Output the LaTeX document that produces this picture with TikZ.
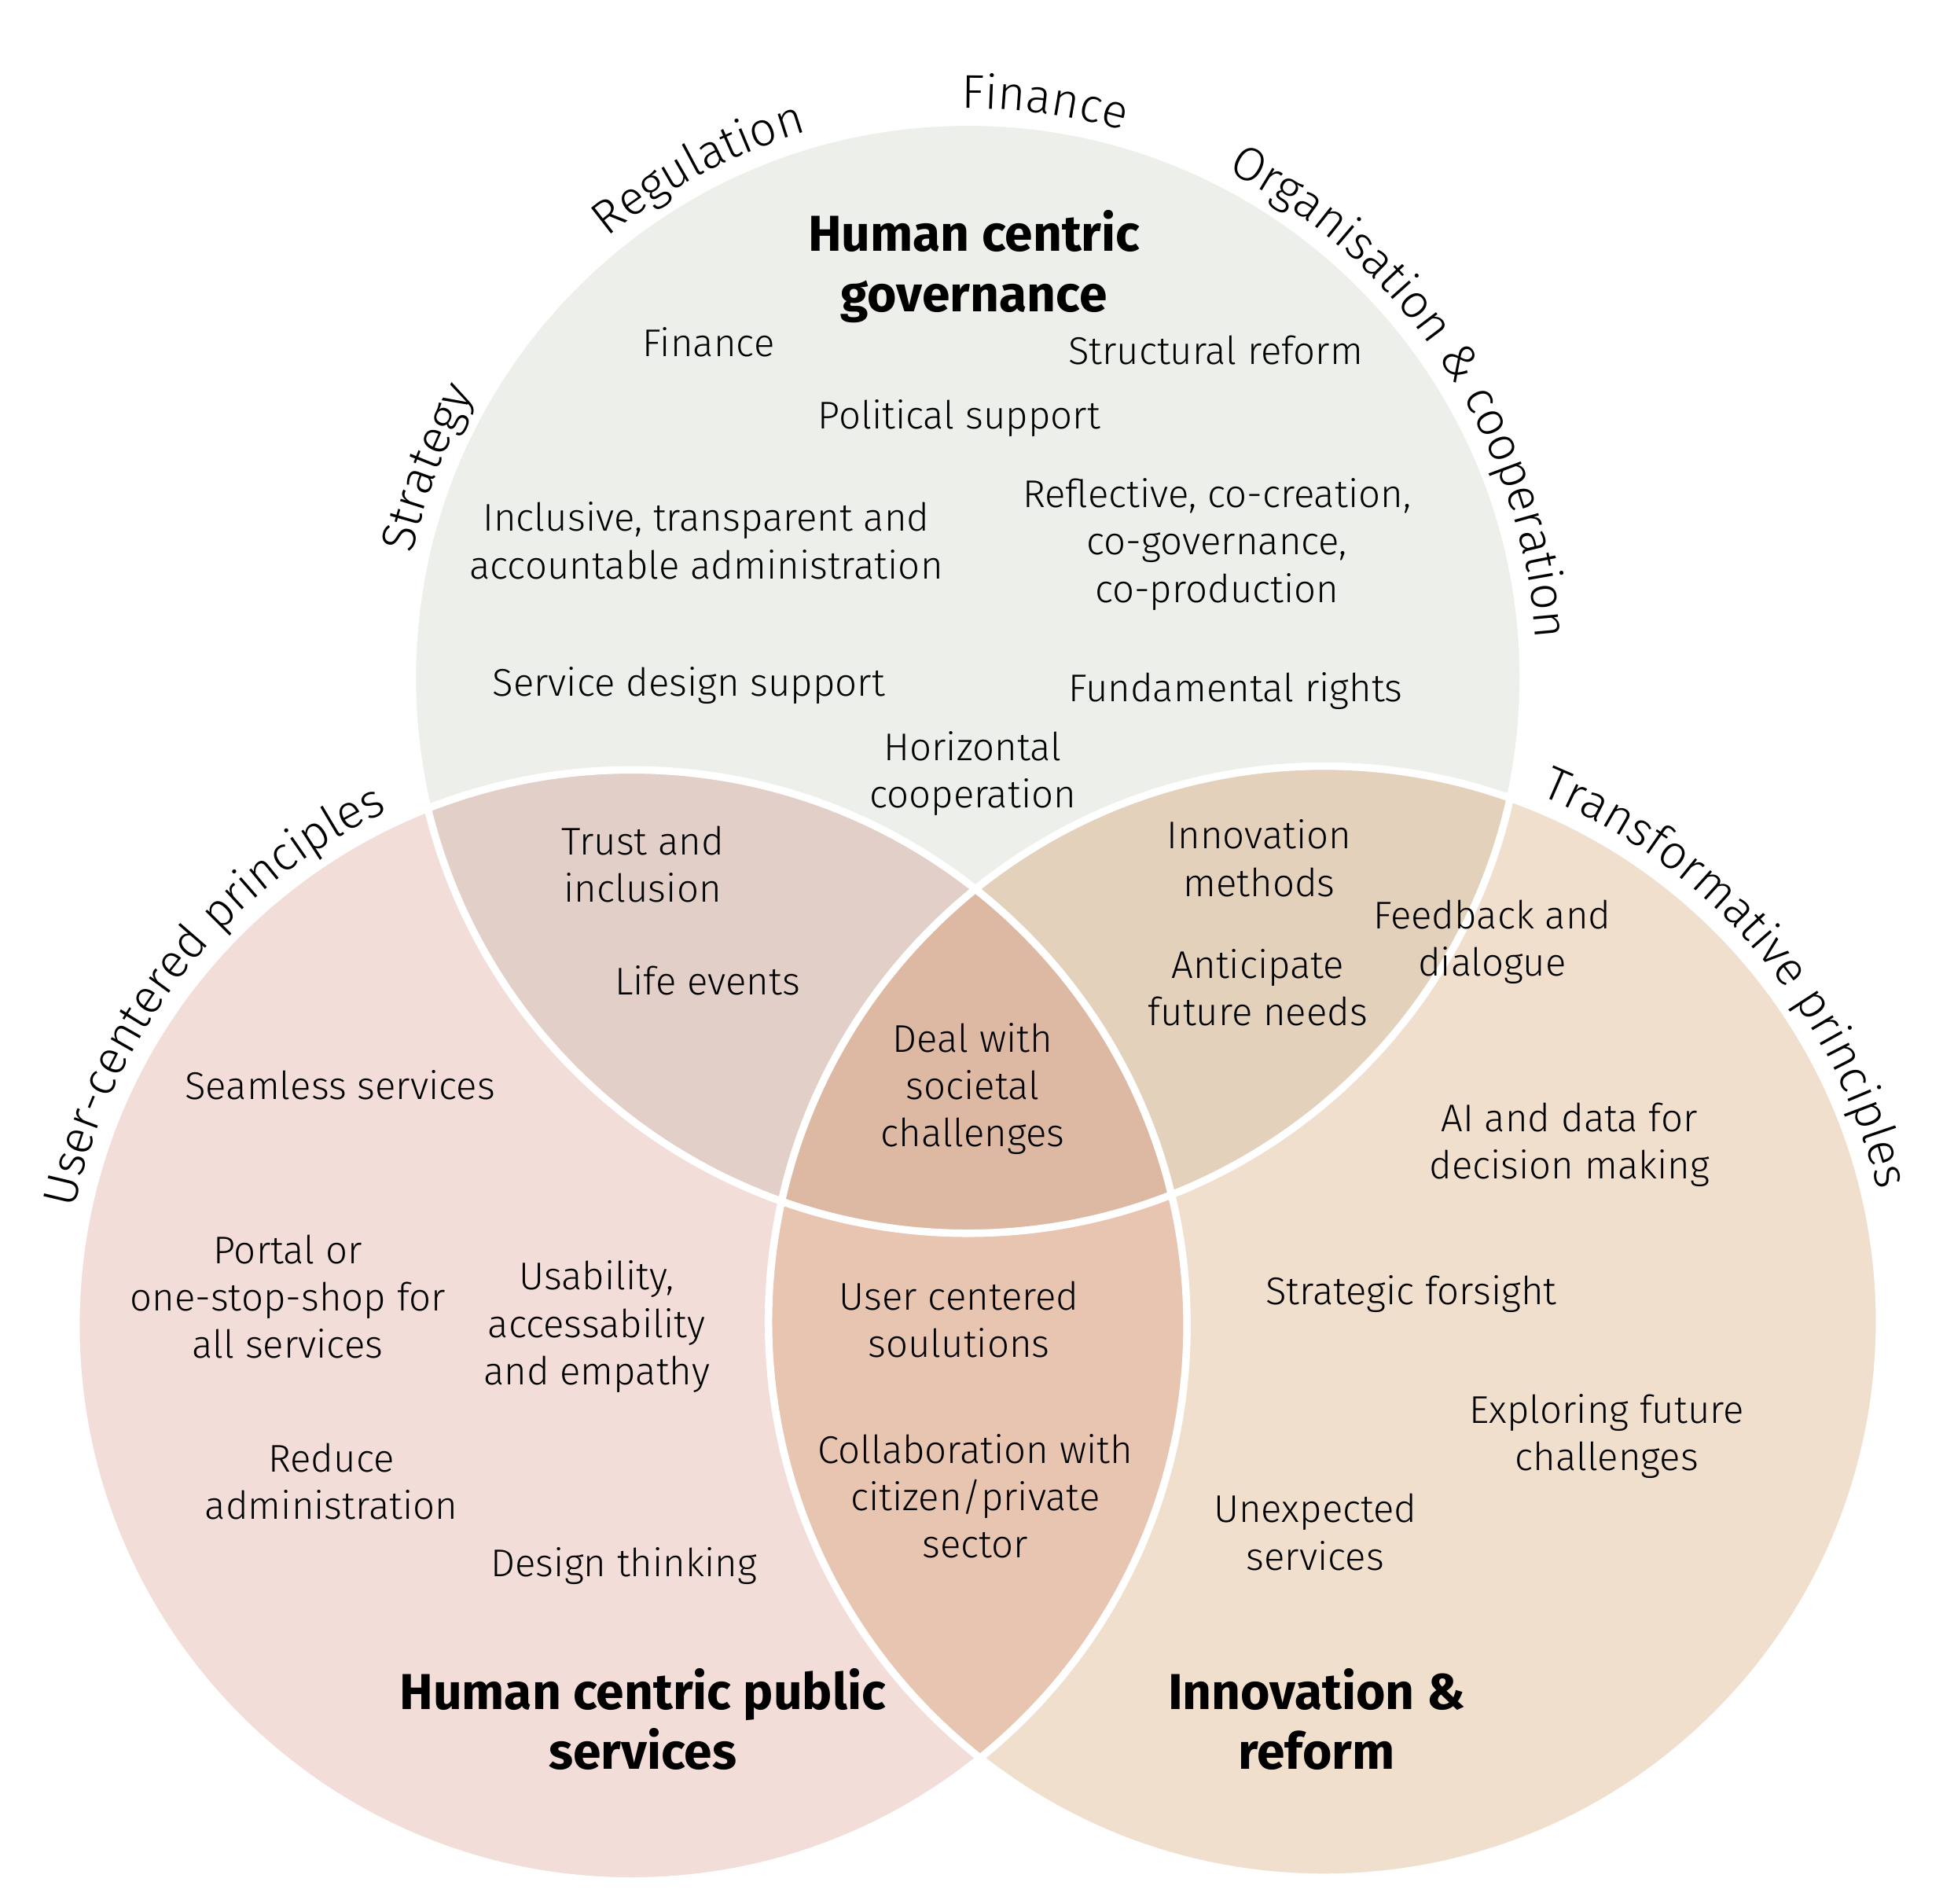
\documentclass[tikz,border=0pt]{standalone}
\usepackage{fontspec}
\IfFontExistsTF{Fira Sans Light}{%
  \setmainfont{Fira Sans}[UprightFont={* Light}, BoldFont={* Bold}]%
  \font\lblraw="Fira Sans Light" at 38pt
}{%
  \setmainfont{Fira Sans}%
  \font\lblraw="Fira Sans" at 38pt
}
\usetikzlibrary{calc}
\definecolor{cTop}{HTML}{EDEFEB}
\definecolor{cLeft}{HTML}{F2DDD8}
\definecolor{cRight}{HTML}{F1DFCD}
\definecolor{cTL}{HTML}{E2CFC8}
\definecolor{cTR}{HTML}{E3D1BC}
\definecolor{cLR}{HTML}{E8C5B1}
\definecolor{cAll}{HTML}{DDB9A4}
\newcommand\Rc{446}
\newcommand\mycharnode[4]{\node[inner sep=0pt, anchor=base, text=black, font=\lblraw, rotate=#2-90] at ($(#1)+(#2:#3)$) {#4};}
\ExplSyntaxOn
\dim_new:N \l_my_acc_dim
\dim_new:N \l_my_tot_dim
\dim_new:N \l_my_w_dim
\box_new:N \l_my_box
\tl_new:N \l_my_ang_tl
\NewDocumentCommand\curvetext{mmmm}
 {
  \hbox_set:Nn \l_my_box { \lblraw \tl_to_str:n {#4} }
  \dim_set:Nn \l_my_tot_dim { \box_wd:N \l_my_box }
  \dim_zero:N \l_my_acc_dim
  \str_map_inline:nn {#4}
   {
    \hbox_set:Nn \l_my_box { \lblraw ##1 }
    \dim_set:Nn \l_my_w_dim { \box_wd:N \l_my_box }
    \tl_set:Nx \l_my_ang_tl
     { \fp_eval:n { #3 + ( \dim_to_decimal:n { \l_my_tot_dim } / 2 - \dim_to_decimal:n { \l_my_acc_dim } - \dim_to_decimal:n { \l_my_w_dim } / 2 ) / #2 * 57.29578 } }
    \str_if_eq:nnF {##1} {~}
     {
      \mycharnode {#1} {\l_my_ang_tl} {#2} {##1}
     }
    \dim_add:Nn \l_my_acc_dim { \l_my_w_dim }
   }
 }
\ExplSyntaxOff
\begin{document}
\begin{tikzpicture}[x=1pt,y=1pt,
  body/.style={align=center, font=\fontsize{31}{38}\selectfont, inner sep=0pt, text=black, yshift=3pt},
  ttl/.style={align=center, font=\fontsize{40.5}{48}\selectfont\bfseries, inner sep=0pt, text=black},
  sep/.style={draw=white, line width=6pt}]
\useasboundingbox (0,0) rectangle (1560,-1528);
\coordinate (c1) at (777,-544);
\coordinate (c2) at (507,-1064);
\coordinate (c3) at (1063,-1061);
% fills
\fill[cTop] (c1) circle[radius=\Rc];
\fill[cLeft] (c2) circle[radius=\Rc];
\fill[cRight] (c3) circle[radius=\Rc];
\begin{scope}
  \clip (c1) circle[radius=\Rc];
  \fill[cTL] (c2) circle[radius=\Rc];
  \fill[cTR] (c3) circle[radius=\Rc];
\end{scope}
\begin{scope}
  \clip (c2) circle[radius=\Rc];
  \fill[cLR] (c3) circle[radius=\Rc];
\end{scope}
\begin{scope}
  \clip (c1) circle[radius=\Rc];
  \clip (c2) circle[radius=\Rc];
  \fill[cAll] (c3) circle[radius=\Rc];
\end{scope}
\draw[sep] (c1) circle[radius=\Rc];
\draw[sep] (c2) circle[radius=\Rc];
\draw[sep] (c3) circle[radius=\Rc];
% curved outer labels
\curvetext{c1}{457}{158.9}{Strategy}
\curvetext{c1}{457}{117.9}{Regulation}
\curvetext{c1}{457}{82.5}{Finance}
\curvetext{c1}{457}{33.6}{Organisation & cooperation}
\curvetext{c2}{457}{142}{User-centered principles}
\curvetext{c3}{457}{40.7}{Transformative principles}
% titles
\node[ttl] (tgov) at (782,-214) {Human centric\\governance};
\node[ttl] (tpub) at (516,-1380) {Human centric public\\services};
\node[ttl] (tinn) at (1057,-1380) {Innovation \&\\reform};
% governance
\node[body] (g1) at (569,-278) {Finance};
\node[body] (g2) at (976,-284) {Structural reform};
\node[body] (g3) at (770,-339) {Political support};
\node[body] (g4) at (567,-437) {Inclusive, transparent and\\accountable administration};
\node[body] (g5) at (977,-440) {Reflective, co-creation,\\co-governance,\\co-production};
\node[body] (g6) at (553,-553) {Service design support};
\node[body] (g7) at (992,-558) {Fundamental rights};
\node[body] (g8) at (781,-624) {Horizontal\\cooperation};
% top-left overlap
\node[body] (tl1) at (516,-697) {Trust and\\inclusion};
\node[body] (tl2) at (568,-790) {Life events};
% top-right overlap
\node[body] (tr1) at (1011,-692) {Innovation\\methods};
\node[body] (tr2) at (1010,-796) {Anticipate\\future needs};
% center
\node[body] (ce) at (781,-877) {Deal with\\societal\\challenges};
% transformative
\node[body] (r1) at (1198,-759) {Feedback and\\dialogue};
\node[body] (r2) at (1260,-922) {AI and data for\\decision making};
\node[body] (r3) at (1133,-1042) {Strategic forsight};
\node[body] (r4) at (1290,-1156) {Exploring future\\challenges};
\node[body] (r5) at (1056,-1233) {Unexpected\\services};
% left-right overlap
\node[body] (lr1) at (770,-1062) {User centered\\soulutions};
\node[body] (lr2) at (783,-1204) {Collaboration with\\citizen/private\\sector};
% public services
\node[body] (p1) at (273,-874) {Seamless services};
\node[body] (p2) at (231,-1044) {Portal or\\one-stop-shop for\\all services};
\node[body] (p3) at (479,-1068) {Usability,\\accessability\\and empathy};
\node[body] (p4) at (266,-1192) {Reduce\\administration};
\node[body] (p5) at (501,-1260) {Design thinking};
\end{tikzpicture}
\end{document}
